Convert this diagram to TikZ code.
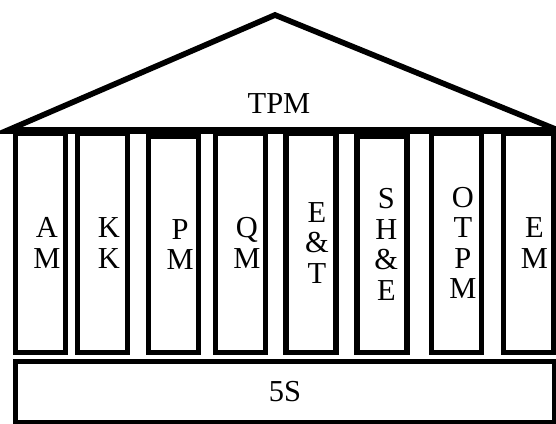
\documentclass[tikz,border=0pt]{standalone}
\usepackage{fontspec}
\setmainfont{Liberation Serif}

\begin{document}
\begin{tikzpicture}[x=0.03cm, y=-0.03cm, line join=miter]
\tikzstyle{pillar}=[draw=black, line width=0.16cm, fill=white, minimum width=1.5cm, inner sep=0pt]
\tikzstyle{word}=[font=\fontsize{26}{26}\selectfont, align=center, inner sep=0pt]
\useasboundingbox (0,0) rectangle (556,424);
% roof
\coordinate (eaveL) at (6,131);
\coordinate (apex)  at (275,15);
\coordinate (eaveR) at (560,131);
\draw[line width=0.17cm] (eaveL) -- (apex) -- (eaveR) -- cycle;
\node[word] (tpm) at (279,104) {TPM};
% pillars
\node[pillar, minimum height=6.57cm] (am)   at (40.5,243)  {};
\node[pillar, minimum height=6.57cm] (kk)   at (102.5,243) {};
\node[pillar, minimum height=6.48cm] (pm)   at (173.5,244.5) {};
\node[pillar, minimum height=6.57cm] (qm)   at (240.5,243) {};
\node[pillar, minimum height=6.57cm] (et)   at (311,243)   {};
\node[pillar, minimum height=6.48cm] (she)  at (382,244.5) {};
\node[pillar, minimum height=6.57cm] (otpm) at (456.5,243) {};
\node[pillar, minimum height=6.57cm] (em)   at (528.5,243) {};
\node[word, xshift=0.19cm] (amT)   at (am)   {A\\M};
\node[word, xshift=0.19cm] (kkT)   at (kk)   {K\\K};
\node[word, xshift=0.2cm]  (pmT)   at (pm)   {P\\M};
\node[word, xshift=0.19cm] (qmT)   at (qm)   {Q\\M};
\node[word, xshift=0.18cm] (etT)   at (et)   {E\\\&\\T};
\node[word, xshift=0.13cm] (sheT)  at (she)  {S\\H\\\&\\E};
\node[word, xshift=0.19cm] (otpmT) at (otpm) {O\\T\\P\\M};
\node[word, xshift=0.18cm] (emT)   at (em)   {E\\M};
% beam
\coordinate (beamL) at (13,130);
\coordinate (beamR) at (556,130);
\draw[line width=0.19cm] (beamL) -- (beamR);
% base
\node[pillar, word, minimum width=16.17cm, minimum height=1.83cm] (base) at (285,392) {5S};
\end{tikzpicture}
\end{document}
